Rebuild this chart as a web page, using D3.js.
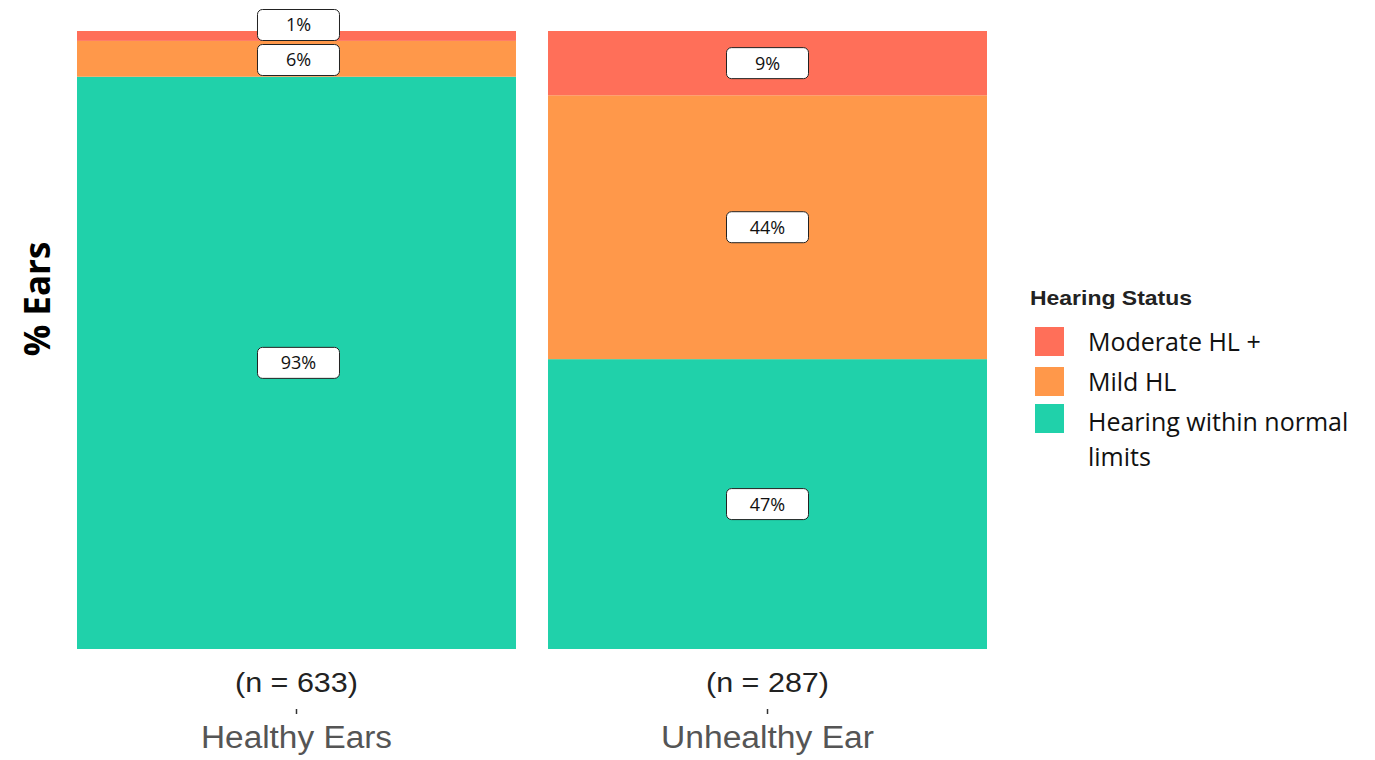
<!DOCTYPE html>
<html><head><meta charset="utf-8">
<script src="https://d3js.org/d3.v7.min.js"></script>
<style>body{margin:0;background:#fff;} svg{display:block;}</style>
</head><body>
<script>
const groups = ["Healthy Ears", "Unhealthy Ear"];
const nLabels = ["(n = 633)", "(n = 287)"];
const statuses = ["Hearing within normal limits", "Mild HL", "Moderate HL +"];
const normalVals = [92.6, 46.9];
const mildVals = [5.8, 42.7];
const moderateVals = [1.6, 10.4];
const normalLabels = ["93%", "47%"];
const mildLabels = ["6%", "44%"];
const moderateLabels = ["1%", "9%"];
const colors = ["#20D1AA", "#FF984A", "#FF6F59"];
const legendOrder = ["Moderate HL +", "Mild HL", "Hearing within normal limits"];

const W = 1375, H = 760;
const svg = d3.select("body").append("svg").attr("width", W).attr("height", H);

const x = d3.scaleBand().domain(groups).range([77, 987]).paddingInner(0.068).paddingOuter(0);
const y = d3.scaleLinear().domain([0, 100]).range([649, 31]);
const color = d3.scaleOrdinal().domain(statuses).range(colors);

const rows = groups.map((g, i) => ({group: g, normal: normalVals[i], mild: mildVals[i], moderate: moderateVals[i]}));
const keys = ["normal", "mild", "moderate"];
const labelArrs = {normal: normalLabels, mild: mildLabels, moderate: moderateLabels};
const stack = d3.stack().keys(keys)(rows);

stack.forEach((layer, li) => {
  svg.append("g").selectAll("rect").data(layer).join("rect")
    .attr("x", d => x(d.data.group))
    .attr("width", x.bandwidth())
    .attr("y", d => y(d[1]))
    .attr("height", d => y(d[0]) - y(d[1]))
    .attr("fill", color(statuses[li]));
});

// labels
const lab = svg.append("g");
stack.forEach((layer, li) => {
  const key = keys[li];
  layer.forEach((d, gi) => {
    let cy = (y(d[0]) + y(d[1])) / 2;
    const cx = x(d.data.group) + x.bandwidth() / 2 + (gi === 0 ? 2 : 0);
    // repel small overlapping labels (healthy group)
    if (gi === 0 && key === "moderate") cy = 25;
    if (gi === 0 && key === "mild") cy = 60;
    const g = lab.append("g").attr("transform", `translate(${cx},${cy})`);
    g.append("rect").attr("x", -41).attr("y", -15.5).attr("width", 82).attr("height", 31)
      .attr("rx", 5).attr("fill", "#fff").attr("stroke", "#222").attr("stroke-width", 1);
    g.append("text").attr("text-anchor", "middle").attr("dy", "0.36em")
      .attr("font-family", "'Open Sans', sans-serif").attr("font-size", 18).attr("fill", "#111")
      .text(labelArrs[key][gi]);
  });
});

// x axis
const ax = svg.append("g");
const nW = [123, 123];
const gW = [191, 213];
groups.forEach((g, i) => {
  const cx = x(g) + x.bandwidth() / 2;
  ax.append("text").attr("x", cx).attr("y", 692).attr("text-anchor", "middle")
    .attr("font-family", "'Liberation Sans', Arial, sans-serif").attr("font-size", 28).attr("fill", "#222")
    .attr("textLength", nW[i]).attr("lengthAdjust", "spacingAndGlyphs")
    .text(nLabels[i]);
  ax.append("line").attr("x1", cx).attr("x2", cx).attr("y1", 709).attr("y2", 714)
    .attr("stroke", "#333").attr("stroke-width", 1.5);
  ax.append("text").attr("x", cx).attr("y", 748).attr("text-anchor", "middle")
    .attr("font-family", "'Liberation Sans', Arial, sans-serif").attr("font-size", 31).attr("fill", "#555")
    .attr("textLength", gW[i]).attr("lengthAdjust", "spacingAndGlyphs")
    .text(g);
});

// y title
svg.append("text").attr("transform", "translate(50,299) rotate(-90)").attr("text-anchor", "middle")
  .attr("font-family", "'Open Sans', sans-serif").attr("font-weight", "bold").attr("font-size", 35)
  .attr("fill", "#000").text("% Ears");

// legend
const lg = svg.append("g");
lg.append("text").attr("x", 1030).attr("y", 305).attr("font-family", "'Liberation Sans', Arial, sans-serif")
  .attr("font-weight", "bold").attr("font-size", 21).attr("fill", "#222")
  .attr("textLength", 162).attr("lengthAdjust", "spacingAndGlyphs").text("Hearing Status");
const keyY = [327, 367, 404];
legendOrder.forEach((s, i) => {
  lg.append("rect").attr("x", 1035).attr("y", keyY[i]).attr("width", 29).attr("height", 29).attr("fill", color(s));
  const t = lg.append("text").attr("x", 1088).attr("y", keyY[i] + 24)
    .attr("font-family", "'Open Sans', sans-serif").attr("font-size", 25).attr("fill", "#111");
  if (s === "Hearing within normal limits") {
    t.append("tspan").attr("x", 1088).attr("y", keyY[i] + 27).text("Hearing within normal");
    t.append("tspan").attr("x", 1088).attr("dy", 35).text("limits");
  } else t.text(s);
});
</script>
</body></html>
